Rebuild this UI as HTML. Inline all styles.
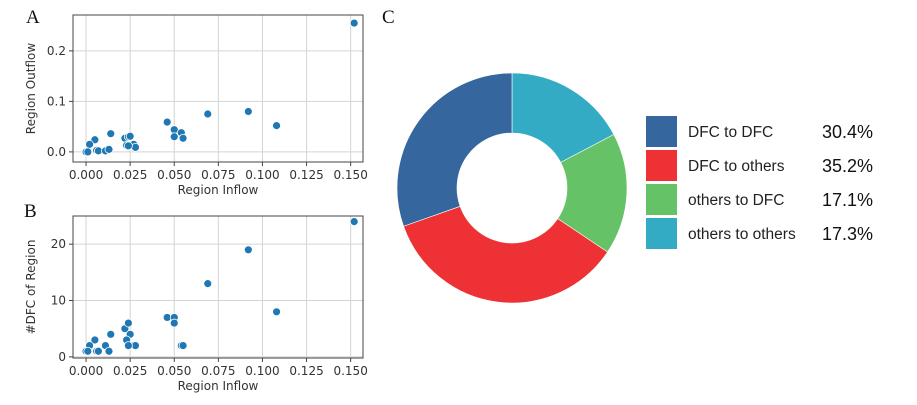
<!DOCTYPE html>
<html><head><meta charset="utf-8"><style>
html,body{margin:0;padding:0;background:#fff;width:917px;height:405px;overflow:hidden}
svg{display:block}
.tick{font-family:"DejaVu Sans","Liberation Sans",sans-serif;font-size:12px;fill:#333}
.lab{font-family:"DejaVu Sans","Liberation Sans",sans-serif;font-size:12px;fill:#333}
.panel{font-family:"Liberation Serif",serif;font-size:19px;fill:#111}
.leg{font-family:"Liberation Sans",sans-serif;font-size:15.5px;fill:#222}
.pct{font-family:"Liberation Sans",sans-serif;font-size:18px;fill:#111}
</style></head><body>
<svg id="root" width="917" height="405" xmlns="http://www.w3.org/2000/svg">
<text class="panel" x="26" y="23">A</text>
<text class="panel" x="24" y="217">B</text>
<text class="panel" x="382" y="23">C</text>
<g id="gA"></g>
<g id="gB"></g>
<g id="gC"></g>
<g id="gL"></g>
</svg>
<script>
const inflow = [0.152,0.092,0.108,0.069,0.046,0.050,0.050,0.054,0.055,0.014,0.005,0.002,0.000,0.001,0.006,0.007,0.011,0.013,0.022,0.024,0.025,0.023,0.027,0.028,0.024];
const outflow = [0.255,0.080,0.052,0.075,0.059,0.044,0.030,0.038,0.027,0.036,0.024,0.015,0.000,0.000,0.003,0.002,0.002,0.005,0.027,0.030,0.031,0.013,0.015,0.009,0.012];
const dfcCount = [24,19,8,13,7,7,6,2,2,4,3,2,1,1,1,1,2,1,5,6,4,3,2,2,2];
const xTicks = [0,0.025,0.05,0.075,0.1,0.125,0.15];
const xTickLabels = ["0.000","0.025","0.050","0.075","0.100","0.125","0.150"];
const yTicksA = [0,0.1,0.2];
const yTickLabelsA = ["0.0","0.1","0.2"];
const yTicksB = [0,10,20];
const yTickLabelsB = ["0","10","20"];
const donutLabels = ["DFC to DFC","DFC to others","others to DFC","others to others"];
const donutValues = [30.4,35.2,17.1,17.3];
const donutColors = ["#35679e","#ee3134","#66c266","#33abc4"];

const NS="http://www.w3.org/2000/svg";
function mk(tag,attrs,parent){const e=document.createElementNS(NS,tag);for(const k in attrs)e.setAttribute(k,attrs[k]);parent.appendChild(e);return e;}

function scatter(g,ys,box,yDom,yT,yTL,ylabel,prefix){
  const [x0,y0,x1,y1]=box;
  const xDom=[-0.0074,0.157];
  const sx=v=>x0+(v-xDom[0])/(xDom[1]-xDom[0])*(x1-x0);
  const sy=v=>y1-(v-yDom[0])/(yDom[1]-yDom[0])*(y1-y0);
  xTicks.forEach((t,i)=>{
    const l=mk('line',{x1:sx(t),x2:sx(t),y1:y0,y2:y1,stroke:'#d4d4d4','stroke-width':1},g);
    
    
    mk('line',{x1:sx(t),x2:sx(t),y1:y1,y2:y1+4,stroke:'#444'},g);
    const tx=mk('text',{x:sx(t),y:y1+17,'text-anchor':'middle',class:'tick'},g);
    tx.textContent=xTickLabels[i];
    
    
  });
  yT.forEach((t,i)=>{
    const l=mk('line',{x1:x0,x2:x1,y1:sy(t),y2:sy(t),stroke:'#d4d4d4','stroke-width':1},g);
    
    
    mk('line',{x1:x0-4,x2:x0,y1:sy(t),y2:sy(t),stroke:'#444'},g);
    const tx=mk('text',{x:x0-7,y:sy(t)+4,'text-anchor':'end',class:'tick'},g);
    tx.textContent=yTL[i];
    
    
  });
  const r=mk('rect',{x:x0,y:y0,width:x1-x0,height:y1-y0,fill:'none',stroke:'#444','stroke-width':1},g);
  
  
  inflow.forEach((v,i)=>{
    const c=mk('circle',{cx:sx(v),cy:sy(ys[i]),r:4,fill:'#1f77b4',stroke:'#fff','stroke-width':0.8},g);
    
    
  });
  const xl=mk('text',{x:(x0+x1)/2,y:y1+32,'text-anchor':'middle',class:'lab'},g);
  xl.textContent='Region Inflow';
  
  
  const cy=(y0+y1)/2;
  const yl=mk('text',{x:35,y:cy,'text-anchor':'middle',class:'lab',transform:`rotate(-90 35 ${cy})`},g);
  yl.textContent=ylabel;
  
  
}
scatter(document.getElementById('gA'),outflow,[73,15,363,162],[-0.02,0.271],yTicksA,yTickLabelsA,'Region Outflow','outflow');
scatter(document.getElementById('gB'),dfcCount,[73,216,363,358],[-0.2,25.0],yTicksB,yTickLabelsB,'#DFC of Region','dfc');

const gC=document.getElementById('gC');
const cx=512,cy=188,R=115,r0=55;
const total=donutValues.reduce((a,b)=>a+b,0);
let ang=0;
for(let k=donutValues.length-1;k>=0;k--){
  const a0=ang, a1=ang+donutValues[k]/total*2*Math.PI; ang=a1;
  const p=(a,rr)=>[cx+rr*Math.sin(a),cy-rr*Math.cos(a)];
  const large=(a1-a0)>Math.PI?1:0;
  const [ax,ay]=p(a0,R),[bx,by]=p(a1,R),[cx1,cy1]=p(a1,r0),[dx,dy]=p(a0,r0);
  const path=mk('path',{d:`M${ax},${ay}A${R},${R} 0 ${large} 1 ${bx},${by}L${cx1},${cy1}A${r0},${r0} 0 ${large} 0 ${dx},${dy}Z`,fill:donutColors[k],stroke:'#fff','stroke-width':0.6},gC);
  
  
}
const gL=document.getElementById('gL');
donutLabels.forEach((lab,i)=>{
  const y=116+i*34;
  const sw=mk('rect',{x:646,y:y,width:31,height:31,fill:donutColors[i]},gL);
  
  
  const t=mk('text',{x:688,y:y+21,class:'leg'},gL);
  t.textContent=lab;
  
  
  const p=mk('text',{x:873,y:y+22,'text-anchor':'end',class:'pct'},gL);
  p.textContent=donutValues[i].toFixed(1)+'%';
  
  
});
</script>
</body></html>
